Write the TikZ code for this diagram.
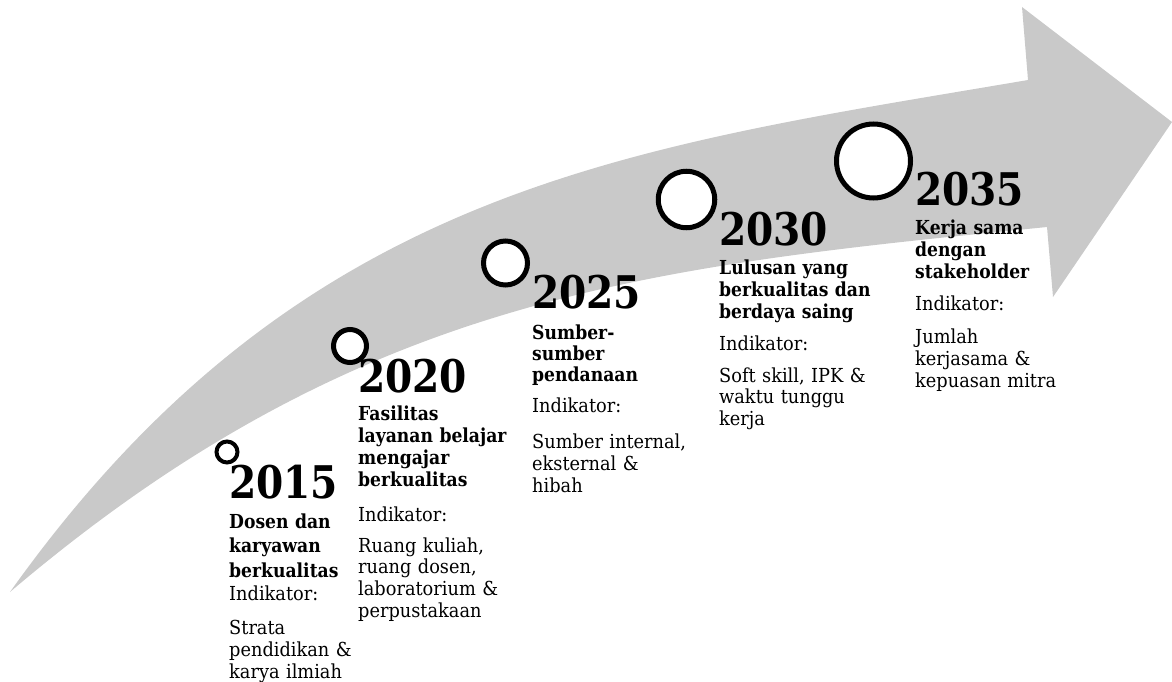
\documentclass[tikz,border=0pt]{standalone}
\usepackage{fontspec}
\setmainfont{DejaVu Serif}
\newfontfamily\yearfont[FakeStretch=0.87]{DejaVu Serif}
\newfontfamily\headfont[FakeStretch=0.89]{DejaVu Serif}
\newfontfamily\bodyfont[FakeStretch=0.92]{DejaVu Serif}
\definecolor{arrowgray}{RGB}{201,201,201}
\begin{document}
\begin{tikzpicture}[x=1pt,y=-1pt,
  yearstyle/.style={anchor=base west, inner sep=0pt, font=\yearfont\bfseries\fontsize{45}{50}\selectfont},
  headstyle/.style={anchor=base west, inner sep=0pt, text width=220pt, align=left, font=\headfont\bfseries\fontsize{19.3}{#1}\selectfont},
  headstyle/.default=22,
  indstyle/.style={anchor=base west, inner sep=0pt, font=\bodyfont\fontsize{19.3}{22}\selectfont},
  bodystyle/.style={anchor=base west, inner sep=0pt, text width=220pt, align=left, font=\bodyfont\fontsize{19.3}{#1}\selectfont},
  bodystyle/.default=22,
  ring/.style={circle, draw=black, fill=white, inner sep=0pt, line width=#1},
  ring/.default=5pt]
\useasboundingbox (0,0) rectangle (1172,682);
% curved arrow
\fill[arrowgray] (10,592) .. controls (300,185) and (628,148) .. (1028,80)
  -- (1022,7) -- (1172,122) -- (1053,297) -- (1047,227)
  .. controls (647,267) and (360,294.5) .. (10,592) -- cycle;
% circles
\node[ring=4pt, minimum size=21pt] (c15) at (227,452) {};
\node[ring, minimum size=33pt] (c20) at (350,346) {};
\node[ring, minimum size=44pt] (c25) at (505.5,263) {};
\node[ring, minimum size=56.5pt] (c30) at (686.5,199.5) {};
\node[ring, minimum size=74pt] (c35) at (873.5,161) {};
% 2015
\node[yearstyle] (y15) at (229,498) {2015};
\node[headstyle=24.5] (h15) at (229,528) {Dosen dan\\karyawan\\berkualitas};
\node[indstyle] (i15) at (229,600) {Indikator:};
\node[bodystyle] (b15) at (229,634) {Strata\\pendidikan \&\\karya ilmiah};
% 2020
\node[yearstyle] (y20) at (358,392) {2020};
\node[headstyle=22.3] (h20) at (358,420) {Fasilitas\\layanan belajar\\mengajar\\berkualitas};
\node[indstyle] (i20) at (358,521) {Indikator:};
\node[bodystyle=21.7] (b20) at (358,552) {Ruang kuliah,\\ruang dosen,\\laboratorium \&\\perpustakaan};
% 2025
\node[yearstyle] (y25) at (532,308) {2025};
\node[headstyle=21] (h25) at (532,339) {Sumber-\\sumber\\pendanaan};
\node[indstyle] (i25) at (532,412) {Indikator:};
\node[bodystyle] (b25) at (532,448) {Sumber internal,\\eksternal \&\\hibah};
% 2030
\node[yearstyle] (y30) at (719,245) {2030};
\node[headstyle] (h30) at (719,274) {Lulusan yang\\berkualitas dan\\berdaya saing};
\node[indstyle] (i30) at (719,350) {Indikator:};
\node[bodystyle=21.7] (b30) at (719,382) {Soft skill, IPK \&\\waktu tunggu\\kerja};
% 2035
\node[yearstyle] (y35) at (915,205) {2035};
\node[headstyle] (h35) at (915,234) {Kerja sama\\dengan\\stakeholder};
\node[indstyle] (i35) at (915,310) {Indikator:};
\node[bodystyle] (b35) at (915,343) {Jumlah\\kerjasama \&\\kepuasan mitra};
\end{tikzpicture}
\end{document}
